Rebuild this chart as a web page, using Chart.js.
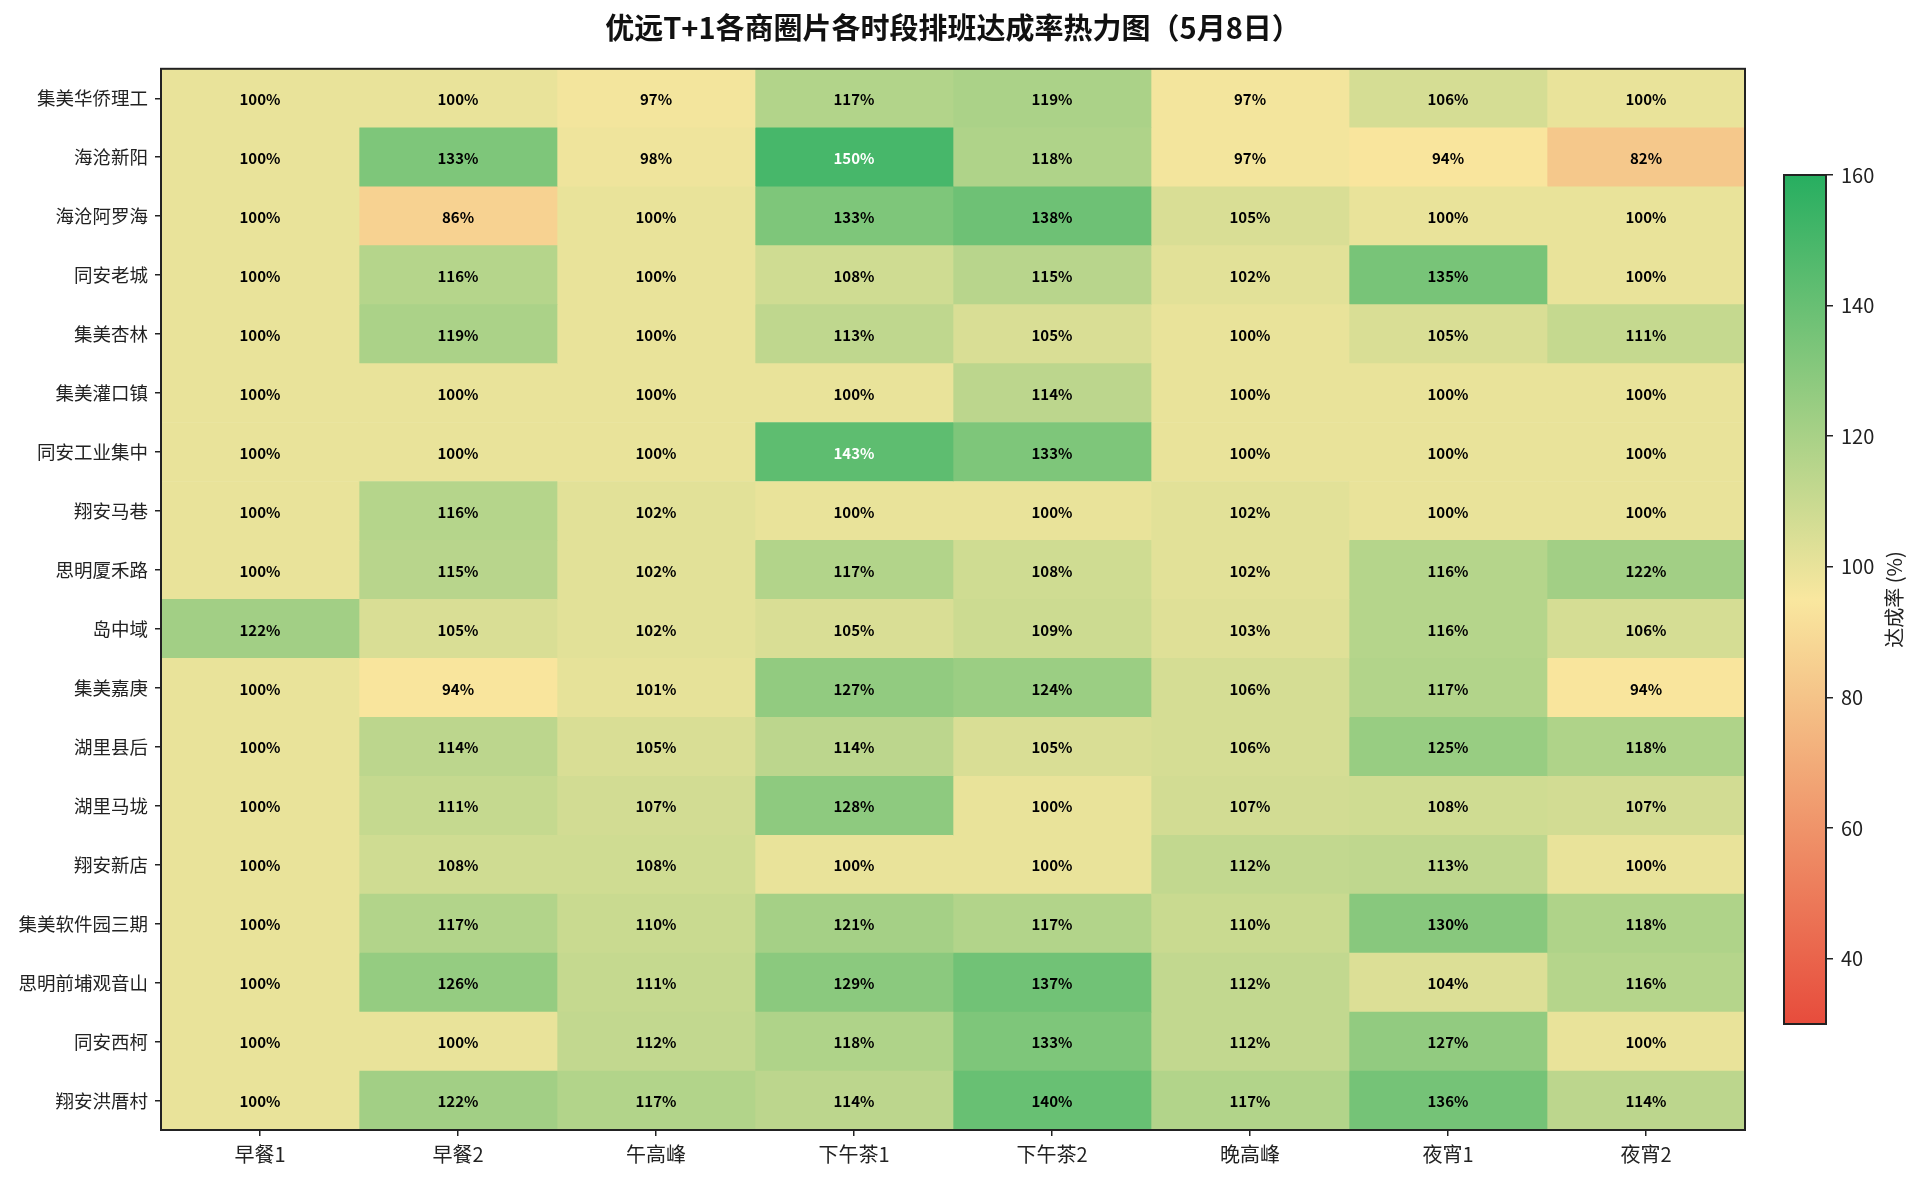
<!DOCTYPE html>
<html lang="zh-CN">
<head>
    <meta charset="UTF-8">
    <title>优远T+1各商圈片各时段排班达成率热力图</title>
    <script src="https://cdn.jsdelivr.net/npm/chart.js"></script>
    <style>
        body {
            margin: 0;
            background: #fff;
            overflow: hidden;
        }
        #heatmap {
            position: absolute;
            left: 0;
            top: 0;
        }
        #colorbar {
            position: absolute;
            left: 1760px;
            top: 150px;
        }
    </style>
</head>
<body>
    <canvas id="heatmap" width="1922" height="1182" style="width:1922px;height:1182px"></canvas>
    <canvas id="colorbar" width="162" height="900" style="width:162px;height:900px"></canvas>

    <script>
        // 商圈片（行）
        const areas = ['集美华侨理工', '海沧新阳', '海沧阿罗海', '同安老城', '集美杏林', '集美灌口镇',
            '同安工业集中', '翔安马巷', '思明厦禾路', '岛中域', '集美嘉庚', '湖里县后', '湖里马垅',
            '翔安新店', '集美软件园三期', '思明前埔观音山', '同安西柯', '翔安洪厝村'];

        // 时段（列）
        const slots = ['早餐1', '早餐2', '午高峰', '下午茶1', '下午茶2', '晚高峰', '夜宵1', '夜宵2'];

        // 各时段达成率 (%)，顺序同 areas
        const breakfast1 = [100, 100, 100, 100, 100, 100, 100, 100, 100, 122, 100, 100, 100, 100, 100, 100, 100, 100];
        const breakfast2 = [100, 133, 86, 116, 119, 100, 100, 116, 115, 105, 94, 114, 111, 108, 117, 126, 100, 122];
        const lunchPeak = [97, 98, 100, 100, 100, 100, 100, 102, 102, 102, 101, 105, 107, 108, 110, 111, 112, 117];
        const afternoonTea1 = [117, 150, 133, 108, 113, 100, 143, 100, 117, 105, 127, 114, 128, 100, 121, 129, 118, 114];
        const afternoonTea2 = [119, 118, 138, 115, 105, 114, 133, 100, 108, 109, 124, 105, 100, 100, 117, 137, 133, 140];
        const dinnerPeak = [97, 97, 105, 102, 100, 100, 100, 102, 102, 103, 106, 106, 107, 112, 110, 112, 112, 117];
        const lateNight1 = [106, 94, 100, 135, 105, 100, 100, 100, 116, 116, 117, 125, 108, 113, 130, 104, 127, 136];
        const lateNight2 = [100, 82, 100, 100, 111, 100, 100, 100, 122, 106, 94, 118, 107, 100, 118, 116, 100, 114];

        const slotValues = [breakfast1, breakfast2, lunchPeak, afternoonTea1, afternoonTea2, dinnerPeak, lateNight1, lateNight2];

        // 色阶范围与刻度
        const vmin = 30;
        const vmax = 160;
        const cbTicks = [40, 60, 80, 100, 120, 140, 160];

        const FONT = "'Noto Sans CJK SC', 'Noto Sans', sans-serif";
        const cmapStops = [[231, 76, 60], [249, 231, 159], [39, 174, 96]];

        function cmap(v) {
            let t = (v - vmin) / (vmax - vmin);
            t = Math.max(0, Math.min(1, t));
            let a, b, f;
            if (t < 0.5) { a = cmapStops[0]; b = cmapStops[1]; f = t * 2; }
            else { a = cmapStops[1]; b = cmapStops[2]; f = (t - 0.5) * 2; }
            const c = a.map((x, k) => Math.round(x + (b[k] - x) * f));
            return 'rgb(' + c.join(',') + ')';
        }

        // 单元格数值标注
        const cellLabels = {
            id: 'cellLabels',
            afterDatasetsDraw(chart) {
                const ctx = chart.ctx;
                ctx.save();
                ctx.font = 'bold 15px ' + FONT;
                ctx.textAlign = 'center';
                ctx.textBaseline = 'middle';
                chart.data.datasets.forEach((ds, j) => {
                    const meta = chart.getDatasetMeta(j);
                    meta.data.forEach((el, i) => {
                        const v = ds.values[i];
                        ctx.fillStyle = v > 140 ? '#ffffff' : '#000000';
                        ctx.fillText(v + '%', (el.x + el.base) / 2, el.y + 1);
                    });
                });
                ctx.restore();
            }
        };

        // 坐标区边框
        const frame = {
            id: 'frame',
            afterDraw(chart) {
                const a = chart.chartArea;
                const ctx = chart.ctx;
                ctx.save();
                ctx.strokeStyle = '#222';
                ctx.lineWidth = 2;
                ctx.strokeRect(a.left, a.top, a.right - a.left, a.bottom - a.top);
                ctx.restore();
            }
        };

        const heatCtx = document.getElementById('heatmap').getContext('2d');
        const heatChart = new Chart(heatCtx, {
            type: 'bar',
            data: {
                labels: areas,
                datasets: slots.map((s, j) => ({
                    label: s,
                    values: slotValues[j],
                    data: areas.map(() => [j, j + 1]),
                    backgroundColor: slotValues[j].map(cmap),
                    borderWidth: 0,
                    grouped: false,
                    barPercentage: 1,
                    categoryPercentage: 1
                }))
            },
            options: {
                indexAxis: 'y',
                responsive: false,
                animation: false,
                layout: { padding: { top: 0, right: 177, bottom: 0, left: 0 } },
                plugins: {
                    legend: { display: false },
                    tooltip: { enabled: false },
                    title: {
                        display: true,
                        fullSize: false,
                        text: '优远T+1各商圈片各时段排班达成率热力图（5月8日）',
                        color: '#111',
                        font: { family: FONT, size: 29, weight: 'bold' },
                        padding: { top: 11, bottom: 23 }
                    }
                },
                scales: {
                    x: {
                        type: 'linear',
                        min: 0,
                        max: slots.length,
                        afterBuildTicks(axis) {
                            axis.ticks = slots.map((s, i) => ({ value: i + 0.5 }));
                        },
                        afterFit(axis) { axis.height = 52; },
                        ticks: {
                            autoSkip: false,
                            maxRotation: 0,
                            padding: 6,
                            color: '#222',
                            font: { family: FONT, size: 20 },
                            callback: (v) => slots[Math.floor(v)]
                        },
                        grid: { drawOnChartArea: false, color: '#222', lineWidth: 1.5, tickLength: 6 },
                        border: { display: false }
                    },
                    y: {
                        type: 'category',
                        offset: true,
                        afterFit(axis) { axis.width = 161; },
                        ticks: {
                            padding: 7,
                            color: '#222',
                            font: { family: FONT, size: 18.5 }
                        },
                        grid: { offset: false, drawOnChartArea: false, color: '#222', lineWidth: 1.5, tickLength: 6 },
                        border: { display: false }
                    }
                }
            },
            plugins: [cellLabels, frame]
        });

        // 色条
        const cbTitle = {
            id: 'cbTitle',
            afterDraw(chart) {
                const a = chart.chartArea;
                const ctx = chart.ctx;
                ctx.save();
                ctx.strokeStyle = '#222';
                ctx.lineWidth = 2;
                ctx.strokeRect(a.left, a.top, a.right - a.left, a.bottom - a.top);
                ctx.translate(134, (a.top + a.bottom) / 2);
                ctx.rotate(-Math.PI / 2);
                ctx.fillStyle = '#222';
                ctx.font = '20px ' + FONT;
                ctx.textAlign = 'center';
                ctx.textBaseline = 'middle';
                ctx.fillText('达成率 (%)', 0, 0);
                ctx.restore();
            }
        };

        const cbCtx = document.getElementById('colorbar').getContext('2d');
        const cbChart = new Chart(cbCtx, {
            type: 'bar',
            data: {
                labels: ['达成率'],
                datasets: [{
                    data: [[vmin, vmax]],
                    borderWidth: 0,
                    barPercentage: 1,
                    categoryPercentage: 1,
                    backgroundColor(c) {
                        const a = c.chart.chartArea;
                        if (!a) return cmap(100);
                        const g = c.chart.ctx.createLinearGradient(0, a.bottom, 0, a.top);
                        g.addColorStop(0, cmap(vmin));
                        g.addColorStop(0.5, cmap((vmin + vmax) / 2));
                        g.addColorStop(1, cmap(vmax));
                        return g;
                    }
                }]
            },
            options: {
                responsive: false,
                animation: false,
                layout: { padding: { top: 25, right: 0, bottom: 26, left: 24 } },
                plugins: {
                    legend: { display: false },
                    tooltip: { enabled: false }
                },
                scales: {
                    x: { display: false },
                    y: {
                        position: 'right',
                        min: vmin,
                        max: vmax,
                        afterBuildTicks(axis) {
                            axis.ticks = cbTicks.map(v => ({ value: v }));
                        },
                        afterFit(axis) { axis.width = 96; },
                        ticks: {
                            padding: 8,
                            color: '#222',
                            font: { family: FONT, size: 20 }
                        },
                        grid: { drawOnChartArea: false, color: '#222', lineWidth: 1.5, tickLength: 7 },
                        border: { display: false }
                    }
                }
            },
            plugins: [cbTitle]
        });
    </script>
</body>
</html>
